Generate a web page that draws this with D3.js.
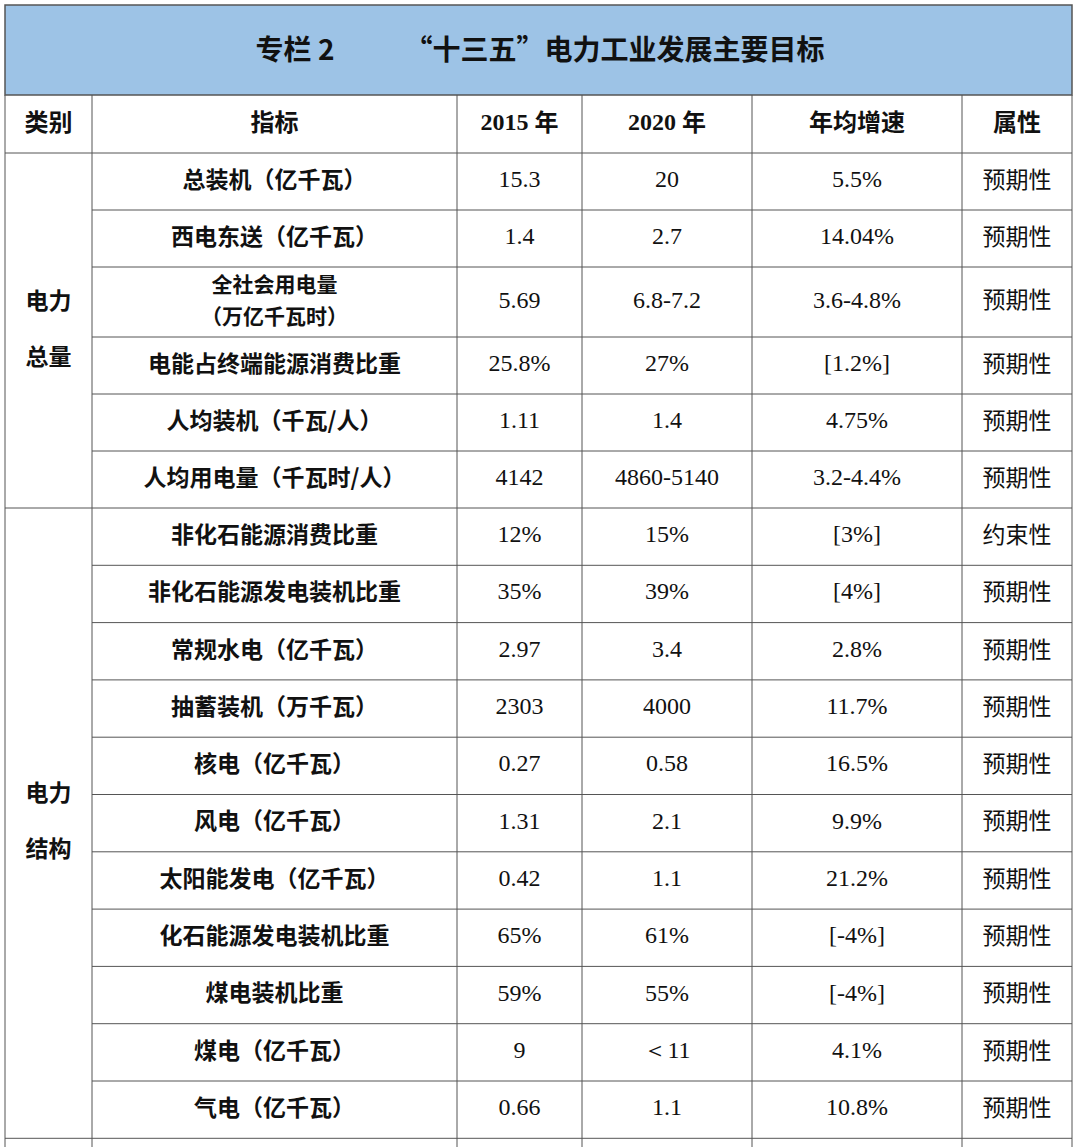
<!DOCTYPE html>
<html><head><meta charset="utf-8">
<script src="https://cdn.jsdelivr.net/npm/d3@7"></script>
<style>body{margin:0;background:#fff}</style></head>
<body><svg id="c" width="1080" height="1147"></svg>
<script>
const title = "专栏 2　　　“十三五”电力工业发展主要目标";
const headers = ["类别","指标","2015 年","2020 年","年均增速","属性"];
const groups = [{name:["电力","总量"], count:6},{name:["电力","结构"], count:11}];
const indicators = ["总装机（亿千瓦）","西电东送（亿千瓦）","全社会用电量\n（万亿千瓦时）","电能占终端能源消费比重","人均装机（千瓦/人）","人均用电量（千瓦时/人）","非化石能源消费比重","非化石能源发电装机比重","常规水电（亿千瓦）","抽蓄装机（万千瓦）","核电（亿千瓦）","风电（亿千瓦）","太阳能发电（亿千瓦）","化石能源发电装机比重","煤电装机比重","煤电（亿千瓦）","气电（亿千瓦）"];
const v2015 = ["15.3","1.4","5.69","25.8%","1.11","4142","12%","35%","2.97","2303","0.27","1.31","0.42","65%","59%","9","0.66"];
const v2020 = ["20","2.7","6.8-7.2","27%","1.4","4860-5140","15%","39%","3.4","4000","0.58","2.1","1.1","61%","55%","＜11","1.1"];
const growth = ["5.5%","14.04%","3.6-4.8%","[1.2%]","4.75%","3.2-4.4%","[3%]","[4%]","2.8%","11.7%","16.5%","9.9%","21.2%","[-4%]","[-4%]","4.1%","10.8%"];
const attr = ["预期性","预期性","预期性","预期性","预期性","预期性","约束性","预期性","预期性","预期性","预期性","预期性","预期性","预期性","预期性","预期性","预期性"];

const svg = d3.select("#c");
const colX = [5,92,457,582,752,962,1072];
const cjk = "'Noto Sans CJK SC',sans-serif", serif = "'Liberation Serif','DejaVu Serif',serif";
const titleTop=5, titleBot=95, headBot=153;
const baseH = 57, tallH = 70;
const heights = indicators.map((d,i)=> d.includes("\n")?tallH:(i<6?baseH:57.3));
const tops=[]; let y=headBot; heights.forEach(h=>{tops.push(y); y+=h;});
const tableBot = y;
const line = "#555";

svg.append("rect").attr("x",colX[0]).attr("y",titleTop).attr("width",colX[6]-colX[0]).attr("height",titleBot-titleTop).attr("fill","#9dc3e6").attr("stroke",line).attr("stroke-width",1.5);
svg.append("text").attr("x",540).attr("y",52).attr("text-anchor","middle").attr("dominant-baseline","middle").attr("font-family",cjk).attr("font-weight","bold").attr("font-size",28).attr("fill","#111").text(title);

headers.forEach((h,i)=>{
  const isNum = /\d/.test(h);
  const t=svg.append("text").attr("x",(colX[i]+colX[i+1])/2).attr("y",(titleBot+headBot)/2).attr("text-anchor","middle").attr("dominant-baseline","middle").attr("font-size",24).attr("font-weight","bold").attr("fill","#111").attr("font-family",cjk);
  if(isNum){const [a,b]=h.split(" ");t.append("tspan").attr("font-family",serif).text(a+" ");t.append("tspan").text(b);} else t.text(h);
});

const cols=[indicators,v2015,v2020,growth,attr];
indicators.forEach((_,r)=>{
  const cy=tops[r]+heights[r]/2;
  cols.forEach((arr,c)=>{
    const txt=arr[r]; const x=(colX[c+1]+colX[c+2])/2;
    const isC = c===0||c===4;
    const lines=txt.split("\n");
    const fs = lines.length>1?21:(isC?23:24);
    lines.forEach((l,k)=>{
      svg.append("text").attr("x",x).attr("y",cy+(k-(lines.length-1)/2)*32).attr("text-anchor","middle").attr("dominant-baseline","middle")
        .attr("font-family",isC?cjk:serif).attr("font-size",fs).attr("font-weight",c===0?"bold":"normal").attr("fill","#111").text(l);
    });
  });
});

let gi=0;
groups.forEach(g=>{
  const gt=tops[gi], gb=(gi+g.count<tops.length)?tops[gi+g.count]:tableBot;
  const cy=(gt+gb)/2;
  g.name.forEach((n,k)=>svg.append("text").attr("x",(colX[0]+colX[1])/2).attr("y",cy+(k-0.5)*56).attr("text-anchor","middle").attr("dominant-baseline","middle").attr("font-family",cjk).attr("font-weight","bold").attr("font-size",23).attr("fill","#111").text(n));
  if(gi>0) svg.append("line").attr("x1",colX[0]).attr("x2",colX[1]).attr("y1",gt).attr("y2",gt).attr("stroke",line);
  gi+=g.count;
});

svg.append("line").attr("x1",colX[0]).attr("x2",colX[6]).attr("y1",headBot).attr("y2",headBot).attr("stroke",line);
tops.forEach((t,i)=>{ if(i>0) svg.append("line").attr("x1",colX[1]).attr("x2",colX[6]).attr("y1",t).attr("y2",t).attr("stroke",line);});
svg.append("line").attr("x1",colX[0]).attr("x2",colX[6]).attr("y1",tableBot).attr("y2",tableBot).attr("stroke",line);
colX.forEach(x=>svg.append("line").attr("x1",x).attr("x2",x).attr("y1",titleBot).attr("y2",1147).attr("stroke",line));
</script></body></html>
